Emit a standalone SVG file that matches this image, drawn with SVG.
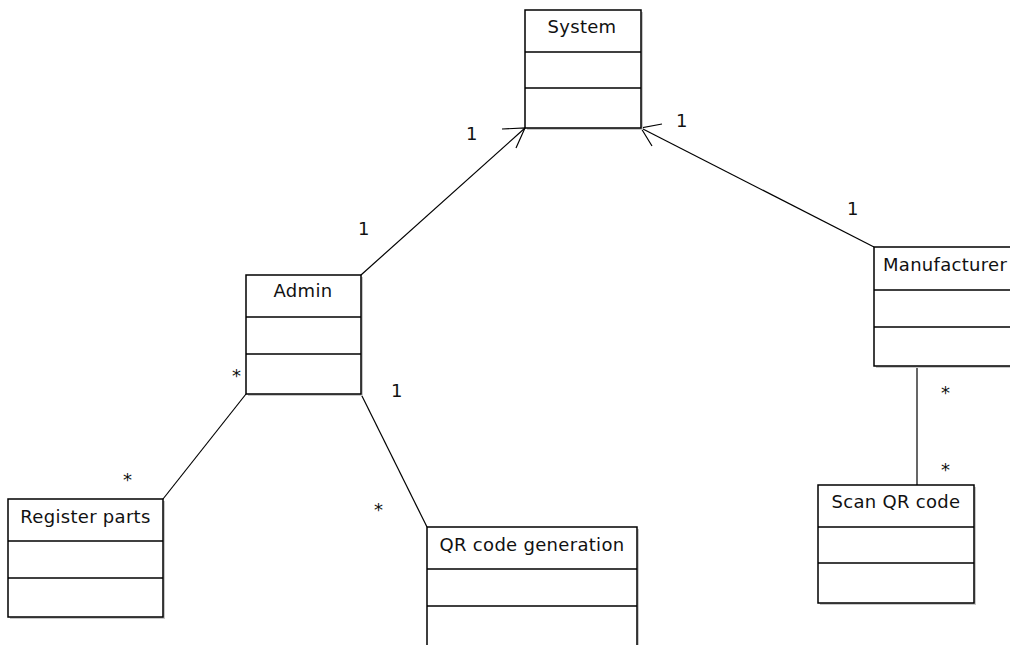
<svg xmlns="http://www.w3.org/2000/svg" width="1010" height="645" viewBox="0 0 1010 645">
<style>
.box{fill:#fff;stroke:#000;stroke-width:1.5}
.sh{fill:#c8c8c8}
.div{stroke:#000;stroke-width:1.3}
.t{font-family:"DejaVu Sans",sans-serif;font-size:18px;fill:#111;letter-spacing:0.3px}
.c{text-anchor:middle}
.ln{stroke:#000;stroke-width:1.2;fill:none}
.lb{font-family:"DejaVu Sans",sans-serif;font-size:18px;fill:#111}
</style>
<rect width="1010" height="645" fill="#fff"/>
<g id="connectors">
<line class="ln" x1="361" y1="275" x2="525" y2="128"/>
<polyline class="ln" points="502,129 525,128 516,148"/>
<line class="ln" x1="874" y1="247" x2="641" y2="128"/>
<polyline class="ln" points="662,124 641,128 652,146"/>
<line class="ln" x1="246" y1="394" x2="163" y2="499"/>
<line class="ln" x1="361" y1="394" x2="427" y2="527"/>
<line class="ln" x1="917" y1="366" x2="917" y2="485"/>
<text class="lb" x="466" y="140">1</text>
<text class="lb" x="676" y="127">1</text>
<text class="lb" x="358" y="235">1</text>
<text class="lb" x="847" y="215">1</text>
<text class="lb" x="232" y="382">*</text>
<text class="lb" x="391" y="397">1</text>
<text class="lb" x="123" y="486">*</text>
<text class="lb" x="374" y="516">*</text>
<text class="lb" x="941" y="399">*</text>
<text class="lb" x="941" y="476">*</text>
</g>
<g id="system">
<rect class="sh" x="527" y="12" width="116" height="118"/>
<rect class="box" x="525" y="10" width="116" height="118"/>
<line class="div" x1="525" y1="52" x2="641" y2="52"/>
<line class="div" x1="525" y1="88" x2="641" y2="88"/>
<text class="t c" x="582" y="33">System</text>
</g>
<g id="admin">
<rect class="sh" x="248" y="277" width="115" height="119"/>
<rect class="box" x="246" y="275" width="115" height="119"/>
<line class="div" x1="246" y1="317" x2="361" y2="317"/>
<line class="div" x1="246" y1="354" x2="361" y2="354"/>
<text class="t c" x="303" y="297">Admin</text>
</g>
<g id="manufacturer">
<rect class="sh" x="876" y="249" width="142" height="119"/>
<rect class="box" x="874" y="247" width="142" height="119"/>
<line class="div" x1="874" y1="290" x2="1016" y2="290"/>
<line class="div" x1="874" y1="327" x2="1016" y2="327"/>
<text class="t" x="883" y="271">Manufacturer</text>
</g>
<g id="register-parts">
<rect class="sh" x="10" y="501" width="155" height="118"/>
<rect class="box" x="8" y="499" width="155" height="118"/>
<line class="div" x1="8" y1="541" x2="163" y2="541"/>
<line class="div" x1="8" y1="578" x2="163" y2="578"/>
<text class="t c" x="85.5" y="523">Register parts</text>
</g>
<g id="qr-code-generation">
<rect class="sh" x="429" y="529" width="210" height="130"/>
<rect class="box" x="427" y="527" width="210" height="130"/>
<line class="div" x1="427" y1="569" x2="637" y2="569"/>
<line class="div" x1="427" y1="606" x2="637" y2="606"/>
<text class="t c" x="532" y="551">QR code generation</text>
</g>
<g id="scan-qr-code">
<rect class="sh" x="820" y="487" width="156" height="118"/>
<rect class="box" x="818" y="485" width="156" height="118"/>
<line class="div" x1="818" y1="527" x2="974" y2="527"/>
<line class="div" x1="818" y1="563" x2="974" y2="563"/>
<text class="t c" x="896" y="508">Scan QR code</text>
</g>
</svg>
